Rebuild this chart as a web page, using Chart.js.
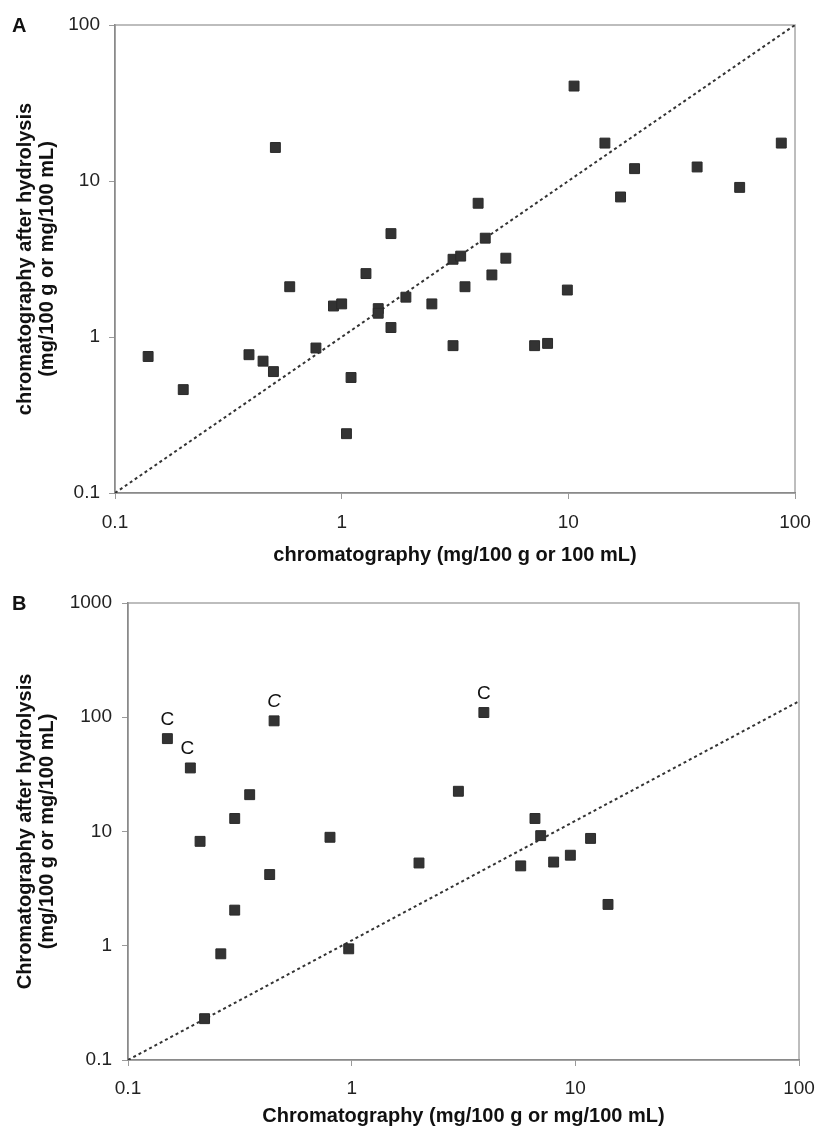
<!DOCTYPE html>
<html>
<head>
<meta charset="utf-8">
<script src="https://cdn.jsdelivr.net/npm/chart.js@4"></script>
<style>
  body { margin: 0; background: #fff; }
  .panel { position: relative; width: 816px; }
  .panel canvas { display: block; }
  .tag { position: absolute; left: 12px; font: bold 20px Arial, "Liberation Sans", sans-serif; line-height: 23px; color: #111; }
</style>
</head>
<body>
<div class="panel" style="height:575px">
  <div class="tag" style="top:14px">A</div>
  <canvas id="chartA" width="816" height="575"></canvas>
</div>
<div class="panel" style="height:558px">
  <div class="tag" style="top:17px">B</div>
  <canvas id="chartB" width="816" height="558"></canvas>
</div>
<script>
// panel A
const aChromatography = [0.14, 0.2, 0.39, 0.45, 0.5, 0.51, 0.59, 0.77, 0.92, 1.0, 1.05, 1.1, 1.28, 1.45, 1.45,
    1.65, 1.65, 1.92, 2.5, 3.1, 3.1, 3.35, 3.5, 4.0, 4.3, 4.6, 5.3, 7.1, 8.1, 9.9, 10.6, 14.5, 17, 19.6, 37, 57, 87]
const aAfterHydrolysis = [0.75, 0.46, 0.77, 0.7, 0.6, 16.4, 2.1, 0.85, 1.58, 1.63, 0.24, 0.55, 2.55, 1.52, 1.42,
    4.6, 1.15, 1.8, 1.63, 0.88, 3.15, 3.3, 2.1, 7.2, 4.3, 2.5, 3.2, 0.88, 0.91, 2.0, 40.6, 17.5, 7.9, 12, 12.3, 9.1, 17.5]
const aLineX = [0.1, 100]
const aLineY = [0.1, 100]
const aTicks = [0.1, 1, 10, 100]

// panel B
const bChromatography = [0.15, 0.19, 0.21, 0.22, 0.26, 0.3, 0.3, 0.35, 0.43, 0.45, 0.8, 0.97, 2.0, 3.0, 3.9,
    5.7, 6.6, 7.0, 8.0, 9.5, 11.7, 14]
const bAfterHydrolysis = [65, 36, 8.2, 0.23, 0.85, 13, 2.05, 21, 4.2, 93, 8.9, 0.94, 5.3, 22.5, 110,
    5.0, 13, 9.2, 5.4, 6.2, 8.7, 2.3]
const bNotes = ['C', 'C', '', '', '', '', '', '', '', 'C', '', '', '', '', 'C', '', '', '', '', '', '', '']
const bLineX = [0.1, 100]
const bLineY = [0.1, 138]
const bTicksX = [0.1, 1, 10, 100]
const bTicksY = [0.1, 1, 10, 100, 1000]

const family = 'Arial, "Liberation Sans", sans-serif'
const tickFont = {family, size: 19}
const titleFont = {family, size: 20, weight: 'bold', lineHeight: '22px'}

const toPoints = (xs, ys) => xs.map((x, i) => ({x, y: ys[i]}))

// grey box round the plot area, like the spreadsheet original
const frame = {
    id: 'frame',
    beforeDraw(chart) {
        const {ctx, chartArea: a} = chart
        ctx.save()
        ctx.strokeStyle = '#a8a8a8'
        ctx.lineWidth = 1.5
        ctx.strokeRect(a.left, a.top, a.right - a.left, a.bottom - a.top)
        ctx.restore()
    }
}

const notes = {
    id: 'notes',
    afterDatasetsDraw(chart) {
        const meta = chart.getDatasetMeta(0)
        const ctx = chart.ctx
        ctx.save()
        ctx.fillStyle = '#111'
        ctx.textAlign = 'center'
        ctx.textBaseline = 'middle'
        bNotes.forEach((t, i) => {
            if (!t) return
            const p = meta.data[i]
            ctx.font = (i === 9 ? 'italic ' : '') + '19px ' + family
            ctx.fillText(t, p.x - (i === 1 ? 3 : 0), p.y - 19)
        })
        ctx.restore()
    }
}

function logAxis(values, opts) {
    return {
        type: 'logarithmic',
        min: values[0],
        max: values[values.length - 1],
        afterBuildTicks: s => { s.ticks = values.map(value => ({value})) },
        afterFit: s => {
            if (opts.width) { s.width = opts.width; s.paddingTop = 0; s.paddingBottom = 0 }
            if (opts.height) { s.height = opts.height; s.paddingLeft = 0; s.paddingRight = 0 }
        },
        ticks: {callback: v => String(v), font: tickFont, color: '#222', padding: opts.tickPad, autoSkip: false, maxRotation: 0},
        grid: {drawOnChartArea: false, tickLength: 6, color: '#9a9a9a', lineWidth: 1},
        border: {color: '#8a8a8a', width: 1.5},
        title: {display: true, text: opts.title, font: titleFont, color: '#111', padding: opts.titlePad}
    }
}

function scatter(canvasId, points, lineX, lineY, scales, padding, plugins) {
    const ctx = document.getElementById(canvasId).getContext('2d')
    return new Chart(ctx, {
        type: 'scatter',
        data: {
            datasets: [{
                data: points,
                pointStyle: 'rect',
                pointRadius: 7,
                pointHoverRadius: 7,
                backgroundColor: '#333',
                borderColor: '#2a2a2a',
                borderWidth: 1
            }, {
                data: toPoints(lineX, lineY),
                showLine: true,
                pointRadius: 0,
                borderColor: '#333',
                borderWidth: 2,
                borderDash: [3, 3]
            }]
        },
        options: {
            responsive: false,
            animation: false,
            events: [],
            layout: {padding},
            plugins: {legend: {display: false}, tooltip: {enabled: false}},
            scales
        },
        plugins
    })
}

scatter('chartA', toPoints(aChromatography, aAfterHydrolysis), aLineX, aLineY, {
    x: logAxis(aTicks, {height: 82, tickPad: 12, title: 'chromatography (mg/100 g or 100 mL)', titlePad: {top: 0, bottom: 9}}),
    y: logAxis(aTicks, {width: 115, tickPad: 9,
        title: ['chromatography after hydrolysis', '(mg/100 g or mg/100 mL)'], titlePad: {top: 14, bottom: 0}})
}, {top: 25, right: 21, left: 0, bottom: 0}, [frame])

scatter('chartB', toPoints(bChromatography, bAfterHydrolysis), bLineX, bLineY, {
    x: logAxis(bTicksX, {height: 73, tickPad: 11, title: 'Chromatography (mg/100 g or mg/100 mL)', titlePad: {top: 0, bottom: 6}}),
    y: logAxis(bTicksY, {width: 128, tickPad: 10,
        title: ['Chromatography after hydrolysis', '(mg/100 g or mg/100 mL)'], titlePad: {top: 14, bottom: 0}})
}, {top: 28, right: 17, left: 0, bottom: 0}, [frame, notes])
</script>
</body>
</html>
